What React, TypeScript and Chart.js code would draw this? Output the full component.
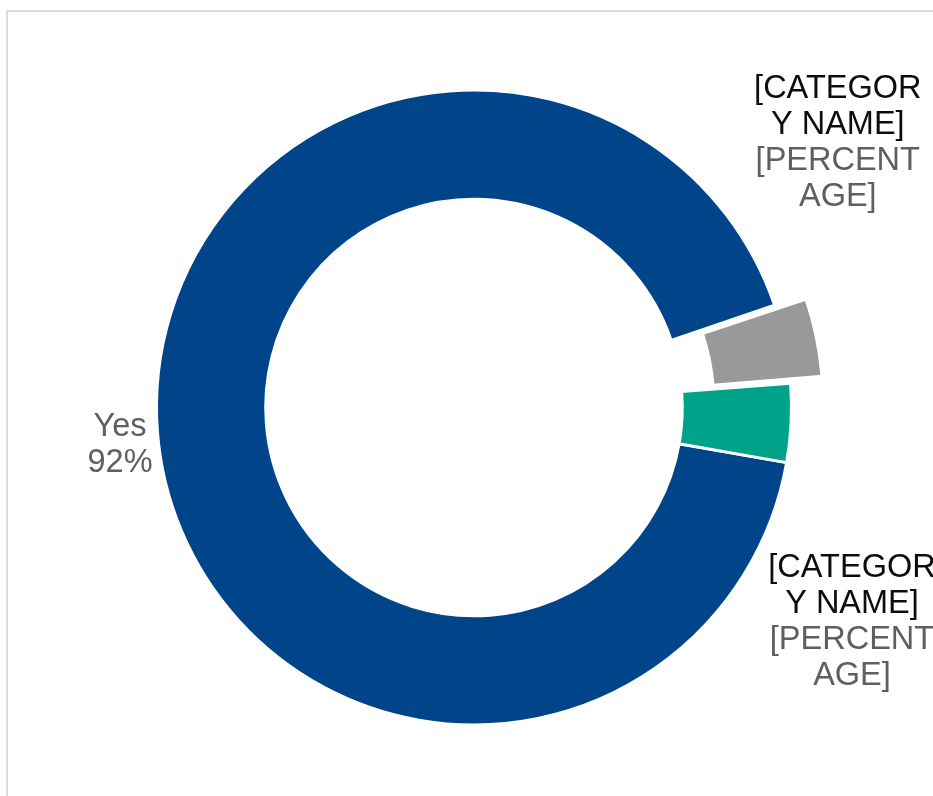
import React, { useEffect, useRef } from "react";
import { Chart, registerables } from "chart.js";

Chart.register(...registerables);

// ---- data ----
const categories = ["Yes", "[CATEGORY NAME]", "[CATEGORY NAME]"];
const values = [92, 4, 4];
const sliceColors = ["#004589", "#999999", "#00A389"];
const sliceOffsets = [0, 73, 0];

// label text lines: [category lines, value lines]
const categoryLines = [[], ["[CATEGOR", "Y NAME]"], ["[CATEGOR", "Y NAME]"]];
const valueLines = [["Yes", "92%"], ["[PERCENT", "AGE]"], ["[PERCENT", "AGE]"]];

// label placement relative to chart centre (degrees, px)
const labelAngles = [173.9, -36.06, 29.57];
const labelDistances = [356, 450, 434.6];

const FONT = '32.5px "Liberation Sans", Arial, sans-serif';
const LINE_H = 36;

const labelPlugin = {
  id: "sliceLabels",
  afterDatasetsDraw(chart: any) {
    const meta = chart.getDatasetMeta(0);
    const ctx = chart.ctx;
    ctx.save();
    ctx.font = FONT;
    ctx.textAlign = "center";
    ctx.textBaseline = "middle";
    meta.data.forEach((arc: any, i: number) => {
      const lines = [
        ...categoryLines[i].map((t) => ({ t, c: "#0d0d0d" })),
        ...valueLines[i].map((t) => ({ t, c: "#5f5f5f" })),
      ];
      const a = (labelAngles[i] * Math.PI) / 180;
      const cx = arc.x + Math.cos(a) * labelDistances[i];
      const cy = arc.y + Math.sin(a) * labelDistances[i];
      const top = cy - ((lines.length - 1) * LINE_H) / 2;
      lines.forEach((l, k) => {
        ctx.fillStyle = l.c;
        ctx.fillText(l.t, cx, top + k * LINE_H);
      });
    });
    ctx.restore();
  },
};

export default function App() {
  const ref = useRef<HTMLCanvasElement | null>(null);
  useEffect(() => {
    if (!ref.current) return;
    const chart = new Chart(ref.current, {
      type: "doughnut",
      data: {
        labels: categories,
        datasets: [
          {
            data: values,
            backgroundColor: sliceColors,
            borderColor: "#ffffff",
            borderWidth: 3,
            offset: sliceOffsets,
            hoverOffset: 0,
          },
        ],
      },
      options: {
        responsive: false,
        animation: false,
        events: [],
        rotation: 100,
        radius: 317.5,
        cutout: "65.6%",
        layout: { padding: { left: 15, top: 19, right: 0, bottom: 0 } },
        plugins: {
          legend: { display: false },
          tooltip: { enabled: false },
          title: { display: false },
        },
      },
      plugins: [labelPlugin],
    });
    return () => chart.destroy();
  }, []);

  return (
    <div style={{ position: "fixed", left: 0, top: 0, width: 933, height: 796, background: "#fff", overflow: "hidden" }}>
      <div
        style={{
          position: "absolute",
          left: 6,
          top: 10,
          width: 927,
          height: 786,
          borderTop: "2px solid #dcdcdc",
          borderLeft: "2px solid #dcdcdc",
          boxSizing: "border-box",
        }}
      />
      <canvas ref={ref} width={933} height={796} style={{ position: "absolute", left: 0, top: 0, display: "block" }} />
    </div>
  );
}
